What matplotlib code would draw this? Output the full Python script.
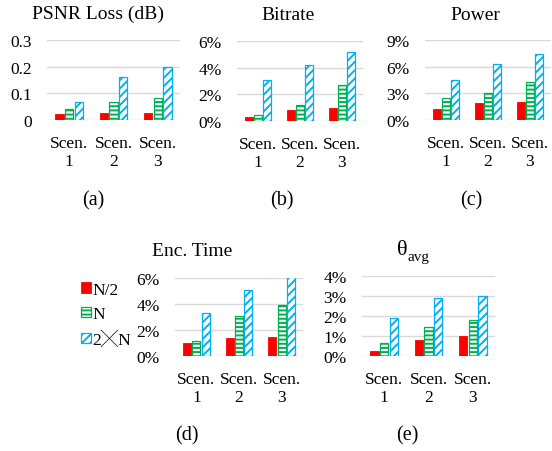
import matplotlib
matplotlib.use("Agg")
import matplotlib.pyplot as plt
import numpy as np

plt.rcParams['font.family'] = ['Liberation Serif', 'Noto Sans CJK JP', 'DejaVu Sans']
plt.rcParams['hatch.linewidth'] = 1.4

# data
scenarios = ["Scen.\n1", "Scen.\n2", "Scen.\n3"]
series = ["N/2", "N", "2\u2573N"]

psnr_half = [0.021, 0.028, 0.028]
psnr_n = [0.043, 0.069, 0.082]
psnr_2n = [0.069, 0.163, 0.200]

bitrate_half = [0.32, 0.83, 1.0]
bitrate_n = [0.45, 1.23, 2.68]
bitrate_2n = [3.05, 4.18, 5.2]

power_half = [1.24, 1.95, 2.06]
power_n = [2.44, 3.04, 4.24]
power_2n = [4.46, 6.34, 7.46]

enc_half = [1.0, 1.4, 1.5]
enc_n = [1.15, 3.11, 3.93]
enc_2n = [3.27, 5.05, 6.05]

theta_half = [0.23, 0.81, 1.02]
theta_n = [0.66, 1.44, 1.8]
theta_2n = [1.9, 2.91, 3.02]

psnr_ticks = [0, 0.1, 0.2, 0.3]
psnr_ticklabels = ["0", "0.1", "0.2", "0.3"]
bitrate_ticks = [0, 2, 4, 6]
power_ticks = [0, 3, 6, 9]
enc_ticks = [0, 2, 4, 6]
theta_ticks = [0, 1, 2, 3, 4]

RED = "#FF0000"
GREEN = "#00B050"
BLUE = "#00B0F0"
GRID = "#D9D9D9"

W, H = 552, 452
fig = plt.figure(figsize=(W / 100, H / 100), dpi=100)


def px_axes(x0, y0, x1, y1):
    # pixel box (top-left origin) -> figure axes
    return fig.add_axes([x0 / W, 1 - y1 / H, (x1 - x0) / W, (y1 - y0) / H])


def panel(ax, half, n, dbl, ticks, labels):
    x = np.arange(len(scenarios))
    w = 0.19
    off = 0.22
    b1 = ax.bar(x - off, half, w, color=RED, edgecolor=RED, linewidth=0.6, zorder=3)
    b2 = ax.bar(x, n, w, color="white", edgecolor=GREEN, hatch="----", linewidth=0.9, zorder=3)
    b3 = ax.bar(x + off, dbl, w, color="white", edgecolor=BLUE, hatch="////", linewidth=0.9, zorder=3)
    ax.set_xlim(-0.5, len(scenarios) - 0.5)
    ax.set_ylim(ticks[0], ticks[-1])
    ax.set_yticks(ticks)
    ax.set_yticklabels(labels)
    ax.set_xticks(x)
    ax.set_xticklabels(scenarios, linespacing=1.15)
    for s in ax.spines.values():
        s.set_visible(False)
    ax.yaxis.grid(True, color=GRID, linewidth=1.0, zorder=0)
    ax.set_axisbelow(True)
    ax.tick_params(axis='y', length=0, pad=11, labelsize=12.5)
    ax.tick_params(axis='x', length=0, pad=11, labelsize=12.5)
    return b1, b2, b3


def pct(t):
    return ["%d%%" % v for v in t]


ax_a = px_axes(47, 41, 180, 121)
panel(ax_a, psnr_half, psnr_n, psnr_2n, psnr_ticks, psnr_ticklabels)
ax_b = px_axes(237, 42, 363, 122)
panel(ax_b, bitrate_half, bitrate_n, bitrate_2n, bitrate_ticks, pct(bitrate_ticks))
ax_c = px_axes(425, 41, 551, 121)
panel(ax_c, power_half, power_n, power_2n, power_ticks, pct(power_ticks))
ax_d = px_axes(175, 279, 303, 357)
bars = panel(ax_d, enc_half, enc_n, enc_2n, enc_ticks, pct(enc_ticks))
ax_e = px_axes(362, 277, 495, 357)
panel(ax_e, theta_half, theta_n, theta_2n, theta_ticks, pct(theta_ticks))


def ftext(x, y, s, **kw):
    fig.text(x / W, 1 - y / H, s, ha="center", va="center", **kw)


ftext(98, 14, "PSNR Loss (dB)", fontsize=14)
ftext(288, 15, "Bitrate", fontsize=14)
ftext(475, 15, "Power", fontsize=14)
ftext(192, 252, "Enc. Time", fontsize=14)
ftext(402, 251, "\u03b8", fontsize=16)
fig.text(408 / W, 1 - 257 / H, "avg", ha="left", va="center", fontsize=11)

ftext(93, 201, "(a)", fontsize=14.5)
ftext(282, 201, "(b)", fontsize=14.5)
ftext(471, 201, "(c)", fontsize=14.5)
ftext(187, 436, "(d)", fontsize=14.5)
ftext(407, 436, "(e)", fontsize=14.5)

fig.legend(bars, series, loc="center left", bbox_to_anchor=(81 / W, 1 - 316 / H),
           frameon=False, fontsize=12.5, handlelength=0.55, handleheight=0.55,
           handletextpad=0.1, labelspacing=0.5, borderpad=0, borderaxespad=0)

fig.savefig("out.png", dpi=100, facecolor="white")
